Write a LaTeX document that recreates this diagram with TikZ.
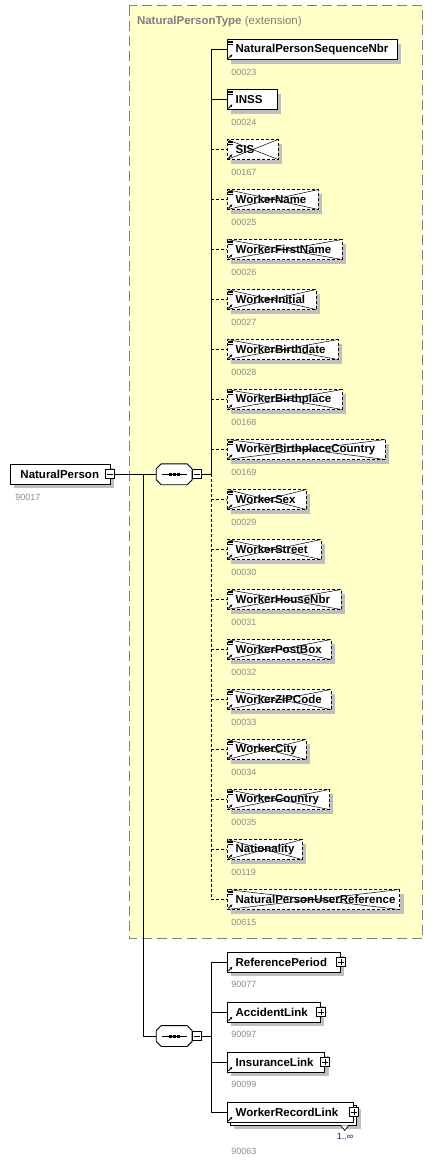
\documentclass[tikz,border=0pt]{standalone}
\usepackage{fontspec}
\setmainfont{Liberation Sans}
\usetikzlibrary{shadows,arrows.meta}

\definecolor{typefill}{HTML}{FFFFC8}
\definecolor{framegray}{HTML}{808080}
\definecolor{idgray}{HTML}{8C8C8C}
\definecolor{occurblue}{HTML}{1A1A80}

\tikzset{
  elem/.style={draw, fill=white, anchor=west, minimum height=20pt, inner sep=0pt,
    font=\fontsize{11.5}{13}\selectfont\bfseries},
  shadowed/.style={drop shadow={shadow xshift=4pt, shadow yshift=-4pt, opacity=1, fill=black!25}},
  dashline/.style={dash pattern=on 3pt off 2pt},
  optelem/.style={dashline, path picture={
      \draw[solid, line width=0.5pt] (path picture bounding box.north west) -- (path picture bounding box.south east)
        (path picture bounding box.south west) -- (path picture bounding box.north east);}},
  seqbox/.style={minimum width=35pt, minimum height=20pt, inner sep=0pt},
  toggle/.style={draw, fill=white, minimum size=9pt, inner sep=0pt, line width=0.8pt},
  idlabel/.style={anchor=base west, inner sep=0pt, text=idgray, font=\fontsize{9}{10}\selectfont}
}

% small marks inside the boxes
\newcommand\minussign[1]{\draw[line width=0.8pt] ([xshift=2pt]#1.west) -- ([xshift=-2pt]#1.east);}
\newcommand\plussign[1]{\minussign{#1}\draw[line width=0.8pt] ([yshift=2pt]#1.south) -- ([yshift=-2pt]#1.north);}
\newcommand\listmark[1]{\draw[line width=0.6pt] ([shift={(1.5,1.8)}]#1.north west) -- ++(5,0) ++(-5,1.8) -- ++(5,0) ++(-5,1.8) -- ++(5,0);}
\newcommand\refmark[1]{\draw[line width=0.8pt, -{Stealth[length=2.6pt, width=2.6pt]}] ([shift={(1.6,-1.5)}]#1.south west) -- ++(4,-4);}
% octagon of a sequence compositor, with its shadow and dots
\newcommand\octapath[1]{([xshift=5pt]#1.north west) -- ([xshift=-5pt]#1.north east) -- ([yshift=-5pt]#1.north east)
  -- ([yshift=5pt]#1.south east) -- ([xshift=-5pt]#1.south east) -- ([xshift=5pt]#1.south west)
  -- ([yshift=5pt]#1.south west) -- ([yshift=-5pt]#1.north west) -- cycle}
\newcommand\seqshape[1]{
  \fill[black!25, shift={(4,4)}] \octapath{#1};
  \draw[fill=white] \octapath{#1};
  \draw[line width=0.9pt] ([xshift=-12.5pt]#1.center) -- ([xshift=12.5pt]#1.center);
  \foreach \dx in {-4,0,4} \fill ([xshift=\dx pt]#1.center) +(-1.5,-1.5) rectangle +(1.5,1.5);}

\begin{document}
\begin{tikzpicture}[x=1pt, y=-1pt, line width=0.9pt]
\useasboundingbox (0,0) rectangle (436,1163);

% complex type frame
\draw[framegray, dash pattern=on 10pt off 5pt, fill=typefill] (129.3,5.5) rectangle (422.8,938.3);
\node[anchor=base west, inner sep=0pt, text=framegray, font=\fontsize{11.5}{13}\selectfont] (typetitle)
  at (136.6,24.2) {\textbf{NaturalPersonType} (extension)};

% root element
\node[elem, shadowed] (np) at (10,474.3) {\makebox[100pt][l]{\hspace*{10pt}NaturalPerson}};
\node[toggle] (npx) at ([xshift=-1pt]np.east) {};
\minussign{npx}
\node[idlabel] (npid) at ([shift={(5,15.5)}]np.south west) {90017};

% first sequence
\node[seqbox] (seqa) at (174.2,474.3) {};
\seqshape{seqa}
\node[toggle, anchor=west] (seqax) at (seqa.east) {};
\minussign{seqax}
\coordinate (busa) at (211,474.3);
\coordinate (split) at (143,474.3);
\draw (npx.east) -- (seqa.west);
\draw (seqax.east) -- (busa);

% mandatory children
\foreach \nm/\w/\id [count=\i from 0] in {NaturalPersonSequenceNbr/170/00023, INSS/50.3/00024} {
  \node[elem, shadowed] (c\i) at (226.7,49.5+50*\i) {\makebox[\w pt][l]{\hspace*{8.5pt}\nm}};
  \listmark{c\i}
  \refmark{c\i}
  \node[idlabel] (c\i id) at ([shift={(4.3,15.5)}]c\i.south west) {\id};
  \draw (busa |- c\i.west) -- (c\i.west);
}

% optional children (prohibited)
\foreach \nm/\w/\id [count=\i from 2] in {SIS/51/00167, WorkerName/91.3/00025, WorkerFirstName/115/00026,
    WorkerInitial/89/00027, WorkerBirthdate/111/00028, WorkerBirthplace/115/00168,
    WorkerBirthplaceCountry/158.3/00169, WorkerSex/79.3/00029, WorkerStreet/94/00030,
    WorkerHouseNbr/114/00031, WorkerPostBox/104/00032, WorkerZIPCode/104/00033,
    WorkerCity/79/00034, WorkerCountry/102.3/00035, Nationality/75/00119,
    NaturalPersonUserReference/172.6/00615} {
  \node[elem, shadowed, optelem] (c\i) at (226.7,49.5+50*\i) {\makebox[\w pt][l]{\hspace*{8.5pt}\nm}};
  \listmark{c\i}
  \refmark{c\i}
  \node[idlabel] (c\i id) at ([shift={(4.3,15.5)}]c\i.south west) {\id};
  \draw[dashline] (busa |- c\i.west) -- (c\i.west);
}
\draw (busa) -- (busa |- c0.west);
\draw[dashline] (busa) -- (busa |- c17.west);

% second sequence
\node[seqbox] (seqb) at (174.2,1036) {};
\seqshape{seqb}
\node[toggle, anchor=west] (seqbx) at (seqb.east) {};
\minussign{seqbx}
\coordinate (busb) at (211,1036);
\draw (split) |- (seqb.west);
\draw (seqbx.east) -- (busb);

\foreach \nm/\w/\id [count=\i from 0] in {ReferencePeriod/113.3/90077, AccidentLink/93.3/90097, InsuranceLink/97.6/90099} {
  \node[elem, shadowed] (f\i) at (226.7,962+50*\i) {\makebox[\w pt][l]{\hspace*{8.5pt}\nm}};
  \refmark{f\i}
  \node[toggle] (f\i x) at (f\i.east) {};
  \plussign{f\i x}
  \node[idlabel] (f\i id) at ([shift={(4.3,15)}]f\i.south west) {\id};
  \draw (busb |- f\i.west) -- (f\i.west);
}

% repeated element
\node[elem, shadowed] (f3b) at (229.7,1115) {\makebox[126.6pt]{}};
\node[elem] (f3) at (226.7,1112) {\makebox[126.6pt][l]{\hspace*{8.5pt}WorkerRecordLink}};
\refmark{f3}
\node[toggle] (f3x) at (f3.east) {};
\plussign{f3x}
\draw[line width=0.7pt, fill=white] ([xshift=-16.5pt]f3b.south east) -- ++(4,5) -- ++(4,-5);
\node[anchor=base east, inner sep=0pt, text=occurblue, font=\fontsize{9}{10}\selectfont] (f3occ)
  at ([shift={(-3.5,14)}]f3b.south east) {1..∞};
\node[idlabel] (f3id) at ([shift={(4.3,32)}]f3.south west) {90063};
\draw (busb |- f3.west) -- (f3.west);
\draw (busb |- f0.west) -- (busb |- f3.west);

\end{tikzpicture}
\end{document}
